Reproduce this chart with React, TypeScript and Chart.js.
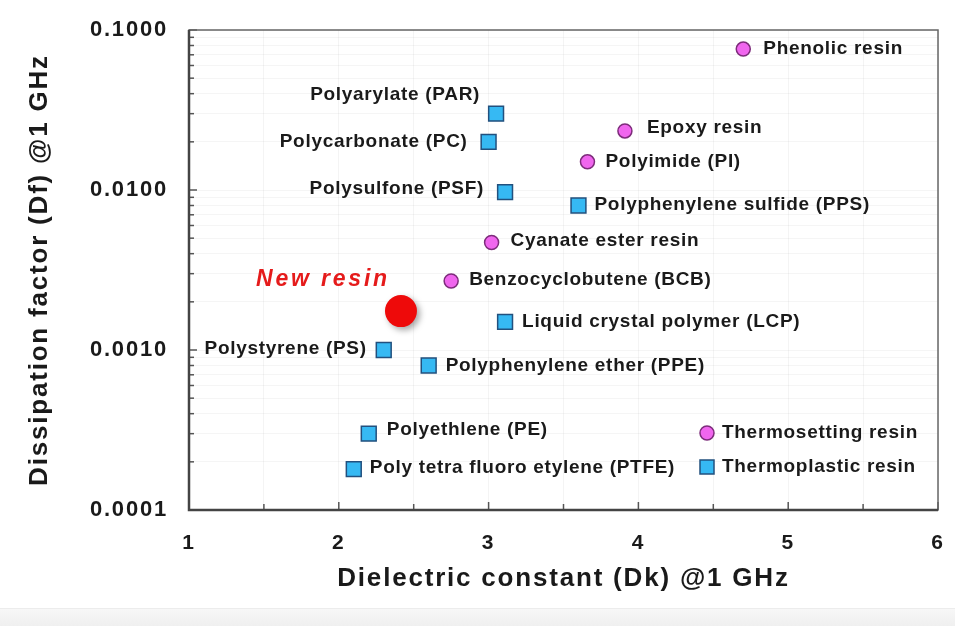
import React, { useEffect, useRef } from 'react';
import { Chart, registerables } from 'chart.js';

Chart.register(...registerables);

// ---------- data ----------
const THERMOSET_NAMES = ['Phenolic resin', 'Epoxy resin', 'Polyimide (PI)', 'Cyanate ester resin', 'Benzocyclobutene (BCB)'];
const THERMOSET_DK = [4.70, 3.91, 3.66, 3.02, 2.75];
const THERMOSET_DF = [0.076, 0.0234, 0.015, 0.0047, 0.0027];

const THERMOPLASTIC_NAMES = [
  'Polyarylate (PAR)',
  'Polycarbonate (PC)',
  'Polysulfone (PSF)',
  'Polyphenylene sulfide (PPS)',
  'Liquid crystal polymer (LCP)',
  'Polystyrene (PS)',
  'Polyphenylene ether (PPE)',
  'Polyethlene (PE)',
  'Poly tetra fluoro etylene (PTFE)',
];
const THERMOPLASTIC_DK = [3.05, 3.00, 3.11, 3.60, 3.11, 2.30, 2.60, 2.20, 2.10];
const THERMOPLASTIC_DF = [0.030, 0.020, 0.0097, 0.0080, 0.0015, 0.0010, 0.00080, 0.00030, 0.00018];

const NEW_NAMES = ['New resin'];
const NEW_DK = [2.415];
const NEW_DF = [0.00175];

const LEGEND_LABELS = ['Thermosetting resin', 'Thermoplastic resin'];

const X_TICK_VALUES = [1, 1.5, 2, 2.5, 3, 3.5, 4, 4.5, 5, 5.5, 6];
const X_TICK_LABELS = ['1', '', '2', '', '3', '', '4', '', '5', '', '6'];
const Y_DECADES = [0.0001, 0.001, 0.01, 0.1];
const Y_DECADE_LABELS = ['0.0001', '0.0010', '0.0100', '0.1000'];

const X_TITLE = 'Dielectric constant (Dk) @1 GHz';
const Y_TITLE = 'Dissipation factor (Df) @1 GHz';

// ---------- label placement (style, not data) ----------
type Place = { dx: number; dy: number; align: CanvasTextAlign };
const LABEL_PLACE: Record<string, Place> = {
  'Phenolic resin': { dx: 20, dy: 0, align: 'left' },
  'Epoxy resin': { dx: 22, dy: -3, align: 'left' },
  'Polyimide (PI)': { dx: 18, dy: 0, align: 'left' },
  'Cyanate ester resin': { dx: 19, dy: -2, align: 'left' },
  'Benzocyclobutene (BCB)': { dx: 18, dy: -1, align: 'left' },
  'Polyarylate (PAR)': { dx: -16, dy: -19, align: 'right' },
  'Polycarbonate (PC)': { dx: -21, dy: 0, align: 'right' },
  'Polysulfone (PSF)': { dx: -21, dy: -3, align: 'right' },
  'Polyphenylene sulfide (PPS)': { dx: 16, dy: -1, align: 'left' },
  'Liquid crystal polymer (LCP)': { dx: 17, dy: 0, align: 'left' },
  'Polystyrene (PS)': { dx: -17, dy: -1, align: 'right' },
  'Polyphenylene ether (PPE)': { dx: 17, dy: 0, align: 'left' },
  'Polyethlene (PE)': { dx: 18, dy: -4, align: 'left' },
  'Poly tetra fluoro etylene (PTFE)': { dx: 16, dy: -1, align: 'left' },
  'New resin': { dx: -11, dy: -31, align: 'right' },
};

const FONT_FAMILY = '"Liberation Sans", Arial, sans-serif';
const TEXT_COLOR = '#1a1a1a';
const PINK = '#f066ee';
const PINK_BORDER = '#7d2c7b';
const BLUE = '#36b9f3';
const BLUE_BORDER = '#22507e';
const RED = '#ee0a0a';

const isDecade = (v: number) => Y_DECADES.findIndex((d) => Math.abs(d - v) / d < 1e-6);

const spacingPlugin = {
  id: 'spacing',
  beforeLayout(chart: any) {
    chart.ctx.letterSpacing = '1.8px';
  },
  beforeDraw(chart: any) {
    chart.ctx.letterSpacing = '1.8px';
  },
};

const framePlugin = {
  id: 'frame',
  beforeDatasetsDraw(chart: any) {
    const { ctx, chartArea: a, scales } = chart;
    ctx.save();
    ctx.strokeStyle = '#555';
    ctx.lineWidth = 1.5;
    scales.x.ticks.forEach((t: any) => {
      const x = scales.x.getPixelForValue(t.value);
      const len = Number.isInteger(t.value) ? 8 : 6;
      ctx.beginPath();
      ctx.moveTo(x, a.bottom);
      ctx.lineTo(x, a.bottom - len);
      ctx.stroke();
    });
    scales.y.ticks.forEach((t: any) => {
      const y = scales.y.getPixelForValue(t.value);
      const len = isDecade(t.value) >= 0 ? 8 : 5;
      ctx.beginPath();
      ctx.moveTo(a.left, y);
      ctx.lineTo(a.left + len, y);
      ctx.stroke();
    });
    ctx.strokeStyle = '#666';
    ctx.lineWidth = 1.5;
    ctx.strokeRect(a.left, a.top, a.right - a.left, a.bottom - a.top);
    ctx.strokeStyle = '#444';
    ctx.lineWidth = 2.5;
    ctx.beginPath();
    ctx.moveTo(a.left, a.top);
    ctx.lineTo(a.left, a.bottom);
    ctx.lineTo(a.right, a.bottom);
    ctx.stroke();
    ctx.restore();
  },
};

const shadowPlugin = {
  id: 'shadow',
  beforeDatasetDraw(chart: any, args: any) {
    if (args.index === 2) {
      const ctx = chart.ctx;
      ctx.save();
      ctx.shadowColor = 'rgba(0,0,0,0.35)';
      ctx.shadowBlur = 6;
      ctx.shadowOffsetX = 3;
      ctx.shadowOffsetY = 3;
    }
  },
  afterDatasetDraw(chart: any, args: any) {
    if (args.index === 2) chart.ctx.restore();
  },
};

const labelPlugin = {
  id: 'pointLabels',
  afterDatasetsDraw(chart: any) {
    const { ctx } = chart;
    ctx.save();
    ctx.textBaseline = 'middle';
    chart.data.datasets.forEach((ds: any, di: number) => {
      const meta = chart.getDatasetMeta(di);
      meta.data.forEach((el: any, i: number) => {
        const name = ds.names[i];
        const p = LABEL_PLACE[name] || { dx: 14, dy: 0, align: 'left' };
        if (di === 2) {
          ctx.font = `italic bold 23px ${FONT_FAMILY}`;
          ctx.fillStyle = '#e51b1b';
          ctx.letterSpacing = '2.8px';
        } else {
          ctx.font = `bold 19px ${FONT_FAMILY}`;
          ctx.fillStyle = TEXT_COLOR;
          ctx.letterSpacing = '0.7px';
        }
        ctx.textAlign = p.align;
        ctx.fillText(name, el.x + p.dx, el.y + p.dy);
      });
    });
    const a = chart.chartArea;
    const lx = a.right - 231;
    const ly = [a.bottom - 77, a.bottom - 43];
    ctx.lineWidth = 1.5;
    ctx.beginPath();
    ctx.arc(lx, ly[0], 7, 0, Math.PI * 2);
    ctx.fillStyle = PINK;
    ctx.fill();
    ctx.strokeStyle = PINK_BORDER;
    ctx.stroke();
    ctx.fillStyle = BLUE;
    ctx.fillRect(lx - 7, ly[1] - 7, 14, 14);
    ctx.strokeStyle = BLUE_BORDER;
    ctx.strokeRect(lx - 7, ly[1] - 7, 14, 14);
    ctx.font = `bold 19px ${FONT_FAMILY}`;
    ctx.letterSpacing = '0.7px';
    ctx.fillStyle = TEXT_COLOR;
    ctx.textAlign = 'left';
    LEGEND_LABELS.forEach((l, i) => ctx.fillText(l, lx + 15, ly[i]));
    ctx.restore();
  },
};

const toPoints = (xs: number[], ys: number[]) => xs.map((x, i) => ({ x, y: ys[i] }));

export default function App() {
  const ref = useRef<HTMLCanvasElement | null>(null);

  useEffect(() => {
    if (!ref.current) return;
    const yTicks: number[] = [];
    Y_DECADES.forEach((d, i) => {
      yTicks.push(d);
      if (i < Y_DECADES.length - 1) for (let m = 2; m <= 9; m++) yTicks.push(d * m);
    });

    const chart = new Chart(ref.current, {
      type: 'scatter',
      data: {
        datasets: [
          {
            label: LEGEND_LABELS[0],
            names: THERMOSET_NAMES,
            data: toPoints(THERMOSET_DK, THERMOSET_DF),
            pointStyle: 'circle',
            pointRadius: 7,
            pointHoverRadius: 7,
            backgroundColor: PINK,
            borderColor: PINK_BORDER,
            borderWidth: 1.5,
          } as any,
          {
            label: LEGEND_LABELS[1],
            names: THERMOPLASTIC_NAMES,
            data: toPoints(THERMOPLASTIC_DK, THERMOPLASTIC_DF),
            pointStyle: 'rect',
            pointRadius: 10.5,
            pointHoverRadius: 10.5,
            backgroundColor: BLUE,
            borderColor: BLUE_BORDER,
            borderWidth: 1.5,
          } as any,
          {
            label: NEW_NAMES[0],
            names: NEW_NAMES,
            data: toPoints(NEW_DK, NEW_DF),
            pointStyle: 'circle',
            pointRadius: 16,
            pointHoverRadius: 16,
            backgroundColor: RED,
            borderColor: RED,
            borderWidth: 0,
          } as any,
        ],
      },
      options: {
        responsive: false,
        animation: false,
        devicePixelRatio: 1,
        layout: { padding: { left: 0, top: 30, right: 17, bottom: 16 } },
        plugins: {
          legend: { display: false },
          tooltip: { enabled: false },
        },
        scales: {
          x: {
            type: 'linear',
            min: 1,
            max: 6,
            afterBuildTicks: (s: any) => {
              s.ticks = X_TICK_VALUES.map((v) => ({ value: v }));
            },
            afterFit: (s: any) => {
              s.height = 100;
              s.paddingLeft = 0;
              s.paddingRight = 0;
            },
            ticks: {
              autoSkip: false,
              maxRotation: 0,
              padding: 21,
              color: TEXT_COLOR,
              font: { family: FONT_FAMILY, size: 21, weight: 'bold' },
              callback: (v: any) => {
                const i = X_TICK_VALUES.indexOf(Number(v));
                return i >= 0 ? X_TICK_LABELS[i] : '';
              },
            },
            grid: { color: 'rgba(0,0,0,0.045)', drawTicks: false },
            border: { display: false },
            title: {
              display: true,
              text: X_TITLE,
              color: TEXT_COLOR,
              font: { family: FONT_FAMILY, size: 26, weight: 'bold' },
              padding: { top: 0, bottom: 16 },
            },
          },
          y: {
            type: 'logarithmic',
            min: 0.0001,
            max: 0.1,
            afterBuildTicks: (s: any) => {
              s.ticks = yTicks.map((v) => ({ value: v }));
            },
            afterFit: (s: any) => {
              s.width = 189;
              s.paddingTop = 0;
              s.paddingBottom = 0;
            },
            ticks: {
              autoSkip: false,
              padding: 21,
              color: TEXT_COLOR,
              font: { family: FONT_FAMILY, size: 22, weight: 'bold' },
              callback: (v: any) => {
                const i = isDecade(Number(v));
                return i >= 0 ? Y_DECADE_LABELS[i] : '';
              },
            },
            grid: { color: 'rgba(0,0,0,0.04)', drawTicks: false },
            border: { display: false },
            title: {
              display: true,
              text: Y_TITLE,
              color: TEXT_COLOR,
              font: { family: FONT_FAMILY, size: 26, weight: 'bold' },
              padding: { top: 24, bottom: 0 },
            },
          },
        },
      } as any,
      plugins: [spacingPlugin, framePlugin, shadowPlugin, labelPlugin],
    });
    return () => chart.destroy();
  }, []);

  return (
    <div style={{ position: 'fixed', left: 0, top: 0, width: 955, height: 626, background: '#fff', overflow: 'hidden' }}>
      <div
        style={{
          position: 'absolute',
          left: 0,
          top: 608,
          width: 955,
          height: 18,
          background: 'linear-gradient(#f7f7f7, #efefef)',
          borderTop: '1px solid #ececec',
        }}
      />
      <canvas ref={ref} width={955} height={626} style={{ position: 'absolute', left: 0, top: 0, width: 955, height: 626 }} />
    </div>
  );
}
